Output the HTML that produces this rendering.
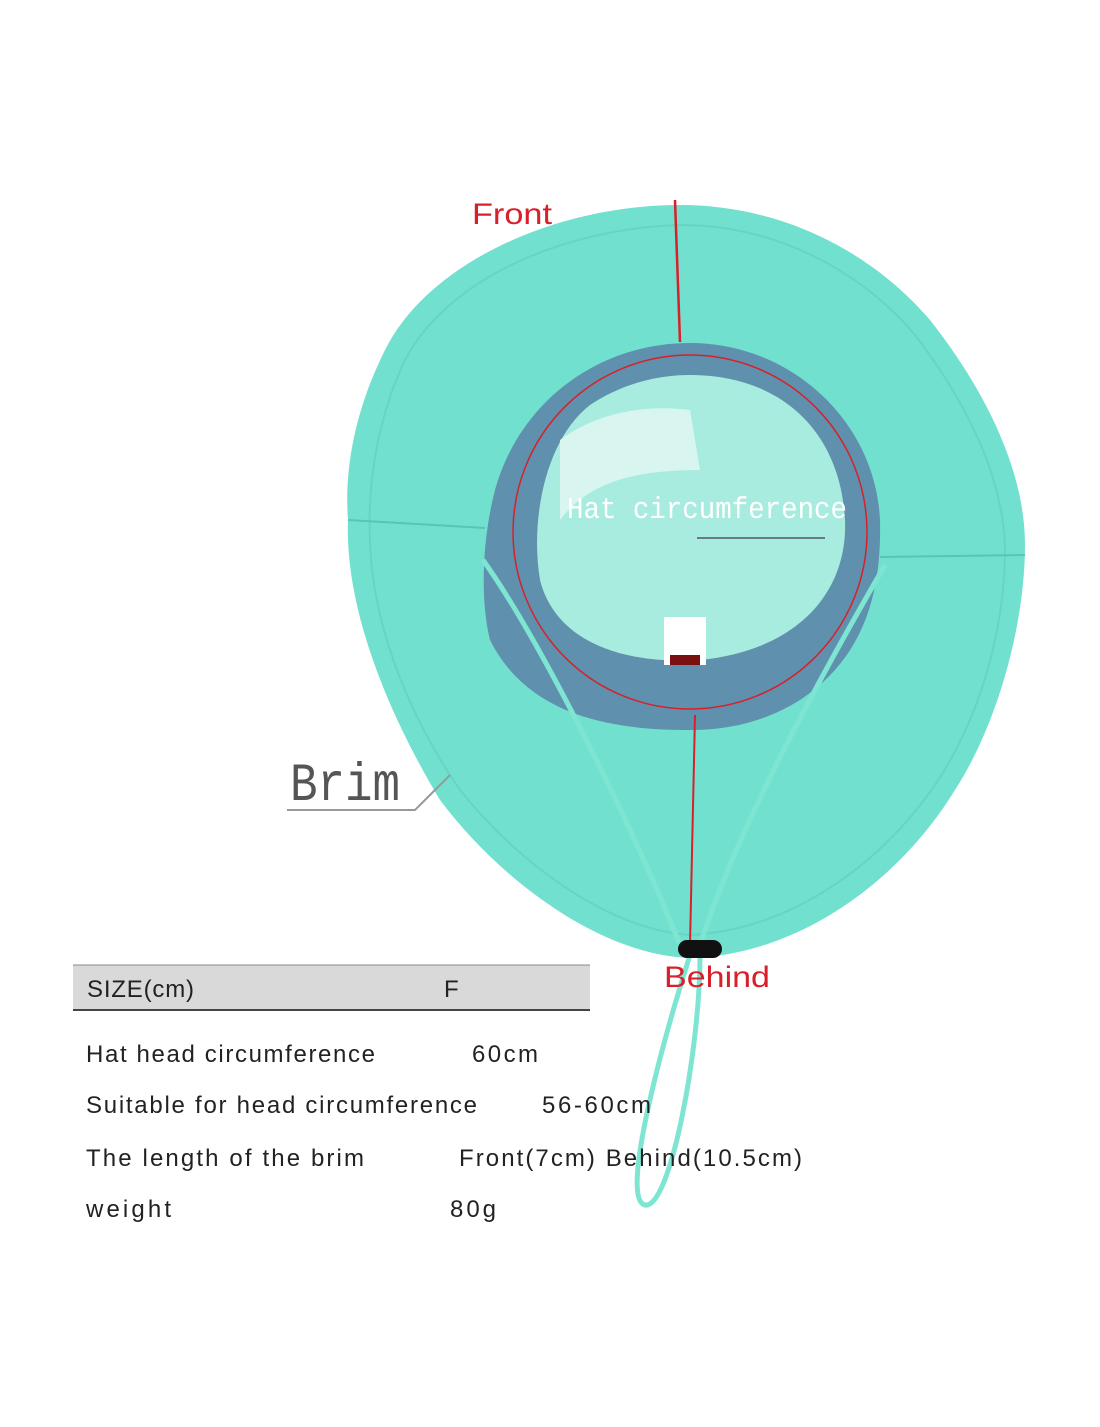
<!DOCTYPE html>
<html><head><style>
body{margin:0;background:#fff;width:1100px;height:1422px;overflow:hidden;font-family:"Liberation Sans",sans-serif}
</style></head><body>
<svg width="1100" height="1422" viewBox="0 0 1100 1422" xmlns="http://www.w3.org/2000/svg">
<path d="M680,205 C560,205 430,260 385,350 C350,420 345,480 348,520 C345,600 380,700 440,800 C500,880 600,955 690,958 C800,955 900,880 955,790 C1000,720 1025,620 1025,545 C1025,470 985,390 930,320 C870,250 780,205 680,205 Z" fill="#72e0cf"/>
<path d="M680,225 C570,228 450,275 405,360 C372,430 368,500 370,540 C372,620 405,710 460,790 C520,865 610,930 690,935 C790,930 880,865 935,785 C985,710 1005,620 1005,548 C1003,475 965,400 915,335 C860,270 775,225 680,225 Z" fill="none" stroke="#62cdbb" stroke-width="2" opacity=".6"/>
<line x1="348" y1="520" x2="485" y2="528" stroke="#5cc4b2" stroke-width="2"/>
<line x1="880" y1="557" x2="1025" y2="555" stroke="#5cc4b2" stroke-width="2"/>
<path d="M690,343 C790,343 875,420 880,520 C882,600 860,660 800,700 C760,725 720,730 690,730 C620,730 530,720 490,640 C480,600 482,540 495,490 C520,400 600,343 690,343 Z" fill="#5f90ad"/>
<path d="M690,375 C780,375 840,430 845,520 C848,590 800,650 700,660 C620,665 555,640 540,580 C530,520 545,440 590,405 C620,385 655,375 690,375 Z" fill="#a8ece0"/>
<path d="M560,440 C600,410 650,405 690,410 L700,470 C640,470 590,480 560,520 Z" fill="#d9f5ef"/>
<circle cx="690" cy="532" r="177" fill="none" stroke="#d8202a" stroke-width="1.5"/>
<line x1="675" y1="200" x2="680" y2="342" stroke="#d8202a" stroke-width="2.5"/>
<line x1="695" y1="715" x2="690" y2="945" stroke="#d8202a" stroke-width="2"/>
<path d="M483,560 C540,640 630,820 680,945" fill="none" stroke="#7fe5d3" stroke-width="5"/>
<path d="M885,565 C830,660 740,820 700,945" fill="none" stroke="#7fe5d3" stroke-width="5"/>
<path d="M690,955 C660,1050 620,1200 645,1205 C670,1210 700,1050 700,955" fill="none" stroke="#7fe5d3" stroke-width="5"/>
<rect x="678" y="940" width="44" height="18" rx="9" fill="#111"/>
<rect x="664" y="617" width="42" height="48" fill="#fff"/>
<rect x="670" y="655" width="30" height="10" fill="#7a1010"/>
<line x1="697" y1="538" x2="825" y2="538" stroke="#556" stroke-width="1.5"/>
<text x="567" y="518" font-family="Liberation Mono,monospace" font-size="31" fill="#fff" textLength="280" lengthAdjust="spacingAndGlyphs">Hat circumference</text>
<text x="472" y="224" font-size="30" fill="#d8202a" textLength="80" lengthAdjust="spacingAndGlyphs">Front</text>
<text x="664" y="987" font-size="30" fill="#d8202a" textLength="106" lengthAdjust="spacingAndGlyphs">Behind</text>
<text x="290" y="800" font-family="Liberation Mono,monospace" font-size="54" fill="#555" textLength="110" lengthAdjust="spacingAndGlyphs">Brim</text>
<polyline points="287,810 415,810 450,775" fill="none" stroke="#999" stroke-width="2"/>
<rect x="73" y="965" width="517" height="45" fill="#d9d9d9"/>
<line x1="73" y1="965" x2="590" y2="965" stroke="#888" stroke-width="1"/>
<line x1="73" y1="1010" x2="590" y2="1010" stroke="#444" stroke-width="2"/>
<g font-size="24" fill="#222" lengthAdjust="spacingAndGlyphs">
<text x="87" y="997" textLength="107">SIZE(cm)</text><text x="444" y="997">F</text>
<text x="86" y="1062" textLength="289">Hat head circumference</text><text x="472" y="1062" textLength="66">60cm</text>
<text x="86" y="1113" textLength="391">Suitable for head circumference</text><text x="542" y="1113" textLength="109">56-60cm</text>
<text x="86" y="1166" textLength="278">The length of the brim</text><text x="459" y="1166" textLength="343">Front(7cm) Behind(10.5cm)</text>
<text x="86" y="1217" textLength="85">weight</text><text x="450" y="1217" textLength="46">80g</text>
</g>
</svg>
</body></html>
